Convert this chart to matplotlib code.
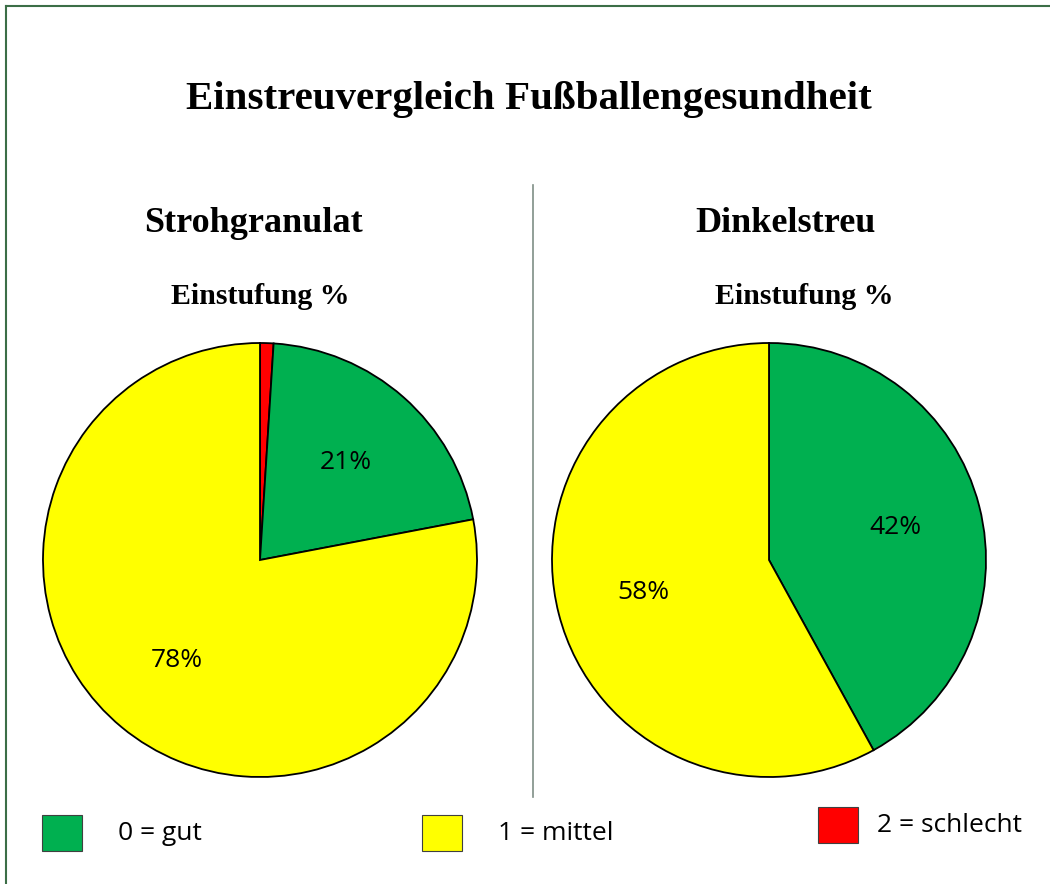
import matplotlib
matplotlib.use('Agg')
import matplotlib.pyplot as plt
from matplotlib.patches import Rectangle

# Data
categories = ['0 = gut', '1 = mittel', '2 = schlecht']
colors = ['#00B050', '#FFFF00', '#FF0000']

stroh_labels = ['2 = schlecht', '0 = gut', '1 = mittel']
stroh_values = [1, 21, 78]
stroh_colors = ['#FF0000', '#00B050', '#FFFF00']

dinkel_labels = ['0 = gut', '1 = mittel']
dinkel_values = [42, 58]
dinkel_colors = ['#00B050', '#FFFF00']

W, H = 1050, 884
fig = plt.figure(figsize=(W / 100, H / 100), dpi=100)
ax = fig.add_axes([0, 0, 1, 1])

serif = 'Liberation Serif'
sans = 'Open Sans'


def pct(p):
    return f'{p:.0f}%' if p >= 5 else ''


def draw_pie(values, cols, cx, cy):
    wedges, texts, autotexts = ax.pie(
        values, colors=cols, startangle=90, counterclock=False,
        center=(cx, cy), radius=217, autopct=pct, pctdistance=0.6,
        wedgeprops=dict(edgecolor='black', linewidth=1.3),
        textprops=dict(fontsize=19, family=sans), frame=True)
    return wedges


draw_pie(stroh_values, stroh_colors, 260, H - 560)
draw_pie(dinkel_values, dinkel_colors, 769, H - 560)
ax.set_xlim(0, W)
ax.set_ylim(0, H)
ax.set_aspect('equal')
ax.axis('off')

# border (top and left)
ax.plot([6, W], [H - 6, H - 6], color='#3C6E47', lw=1.5)
ax.plot([6, 6], [H - 6, 0], color='#3C6E47', lw=1.5)

# divider
ax.plot([533, 533], [H - 185, H - 797], color='#7F8F86', lw=1.2)

# titles
ax.text(529, H - 99, 'Einstreuvergleich Fußballengesundheit', ha='center', va='center',
        fontsize=29.5, fontweight='bold', family=serif)
ax.text(253, H - 223, 'Strohgranulat', ha='center', va='center',
        fontsize=26, fontweight='bold', family=serif)
ax.text(786, H - 223, 'Dinkelstreu', ha='center', va='center',
        fontsize=26, fontweight='bold', family=serif)
ax.text(260, H - 297, 'Einstufung %', ha='center', va='center',
        fontsize=21.5, fontweight='bold', family=serif)
ax.text(804, H - 297, 'Einstufung %', ha='center', va='center',
        fontsize=21.5, fontweight='bold', family=serif)

# legend
legend_pos = [(42, 815, 118), (422, 815, 498), (818, 807, 877)]
for cat, col, (x, y, tx) in zip(categories, colors, legend_pos):
    ax.add_patch(Rectangle((x, H - y - 36), 40, 36, facecolor=col,
                           edgecolor='#404040', lw=0.8))
    ax.text(tx, H - y - 18, cat, ha='left', va='center', fontsize=19, family=sans)

fig.savefig('out.png', dpi=100)
